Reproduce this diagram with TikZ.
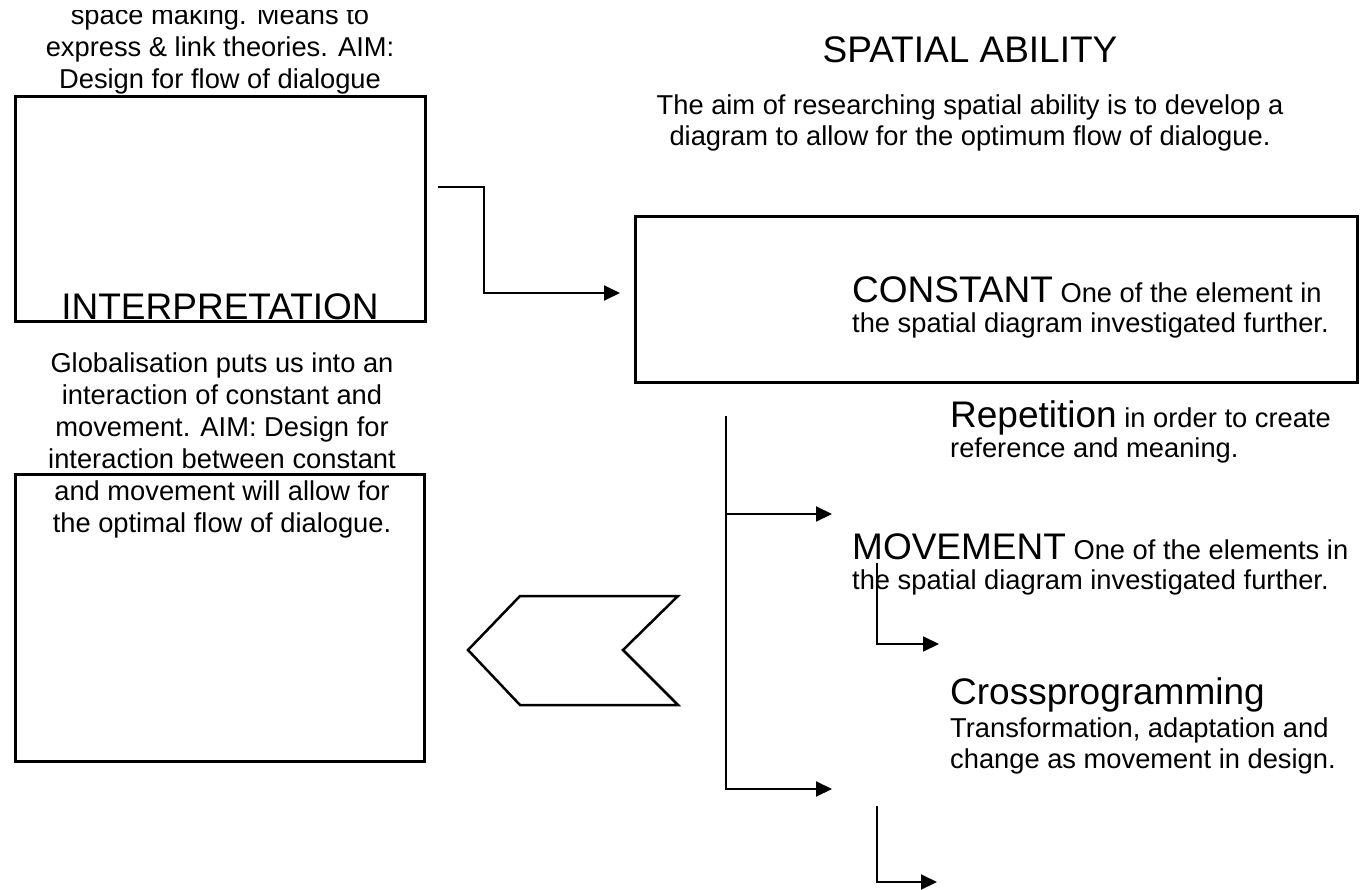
\documentclass[tikz,border=0pt]{standalone}
\usepackage{fontspec}
\setmainfont{Liberation Sans}
\usetikzlibrary{arrows.meta}
\newcommand{\TL}[2]{\vtop{\baselineskip=#1\lineskiplimit=-1000pt\lineskip=0pt\halign{##\hfil\cr#2\crcr}}}
\newcommand{\TC}[2]{\vtop{\baselineskip=#1\lineskiplimit=-1000pt\lineskip=0pt\halign{\hfil##\hfil\cr#2\crcr}}}
\newcommand{\hd}[1]{{\fontsize{37}{40}\selectfont #1}}
\tikzset{
  boxst/.style={draw, line width=3pt, inner sep=0pt},
  txt/.style={inner sep=0pt, font=\fontsize{27.3}{31}\selectfont},
  conn/.style={line width=2pt},
  arr/.style={conn, -{Triangle[length=16pt,width=15pt]}},
  chev/.style={line width=2.5pt}
}
\begin{document}
\begin{tikzpicture}[x=1pt,y=-1pt]
\useasboundingbox (0,0) rectangle (1368,890);
\fill[white] (0,0) rectangle (1368,890);
% boxes
\node[boxst, minimum width=410pt, minimum height=225pt] (b1) at (220,209.5) {};
\node[boxst, minimum width=409pt, minimum height=287pt] (b2) at (219.5,617.5) {};
\node[boxst, minimum width=722pt, minimum height=166pt] (b3) at (996,300) {};
% texts
\begin{scope}
\clip (0,11) rectangle (1368,890);
\node[txt, anchor=base] (t1) at (220,25) {\TC{32pt}{space making. Means to\cr express \& link theories. AIM:\cr Design for flow of dialogue}};
\end{scope}
\node[txt, anchor=base] (interp) at (220,320) {\hd{INTERPRETATION}};
\node[txt, anchor=base] (glob) at (222,373) {\TC{32pt}{Globalisation puts us into an\cr interaction of constant and\cr movement. AIM: Design for\cr interaction between constant\cr and movement will allow for\cr the optimal flow of dialogue.}};
\node[txt, anchor=base] (title) at (970,63) {\hd{SPATIAL ABILITY}};
\node[txt, anchor=base] (aim) at (970,115) {\TC{31pt}{The aim of researching spatial ability is to develop a\cr diagram to allow for the optimum flow of dialogue.}};
\node[txt, anchor=base west] (const) at (852,303) {\TL{30pt}{\hd{CONSTANT} One of the element in\cr the spatial diagram investigated further.}};
\node[txt, anchor=base west] (rep) at (950,428) {\TL{30pt}{\hd{Repetition} in order to create\cr reference and meaning.}};
\node[txt, anchor=base west] (mov) at (852,559) {\TL{30pt}{\hd{MOVEMENT} One of the elements in\cr the spatial diagram investigated further.}};
\node[txt, anchor=base west] (cross) at (950,704) {\TL{31pt}{\hd{Crossprogramming}\cr\noalign{\vskip2pt} Transformation, adaptation and\cr change as movement in design.}};
% connectors
\coordinate (c1s) at (438,187);
\coordinate (c1e) at (620,293);
\draw[arr] (c1s) -- ++(46,0) |- (c1e);
\coordinate (trT) at (726,416);
\coordinate (a1) at (832,514);
\coordinate (a2) at (832,789);
\draw[arr] (trT) |- (a2);
\draw[arr] (trT |- a1) -- (a1);
\coordinate (s1) at (877,563);
\coordinate (s1e) at (939,644);
\draw[arr] (s1) |- (s1e);
\coordinate (s2) at (877,806);
\coordinate (s2e) at (937,882);
\draw[arr] (s2) |- (s2e);
% chevron
\draw[chev] (468,650) -- (520,596) -- (678,596) -- (623,650) -- (678,705) -- (520,705) -- cycle;
\end{tikzpicture}
\end{document}
